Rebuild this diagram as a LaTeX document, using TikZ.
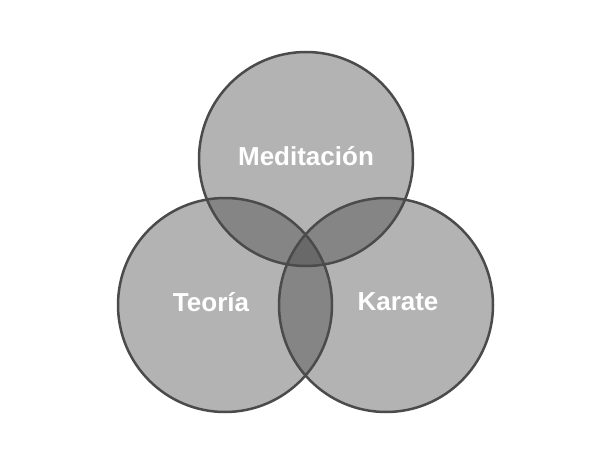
\documentclass[tikz,border=0pt]{standalone}
\usepackage{fontspec}
\setmainfont{Liberation Sans}
\begin{document}
\begin{tikzpicture}[x=1pt,y=1pt,
  setfill/.style={fill=black!75, fill opacity=0.4},
  setline/.style={draw=edgegray, line width=2.5pt},
  lbl/.style={text=white, font=\fontsize{26}{30}\selectfont\bfseries, inner sep=0pt}]
\definecolor{edgegray}{HTML}{4B4B4B}
\useasboundingbox (0,0) rectangle (613,467);
\coordinate (cm) at (306,308);
\coordinate (ct) at (225,162);
\coordinate (ck) at (386,162);
\fill[setfill] (cm) circle (107);
\fill[setfill] (ct) circle (107);
\fill[setfill] (ck) circle (107);
\draw[setline] (cm) circle (107);
\draw[setline] (ct) circle (107);
\draw[setline] (ck) circle (107);
\node[lbl] (med) at (306,311) {Meditación};
\node[lbl] (teo) at (211,165) {Teoría};
\node[lbl] (kar) at (398,165) {Karate};
\end{tikzpicture}
\end{document}
